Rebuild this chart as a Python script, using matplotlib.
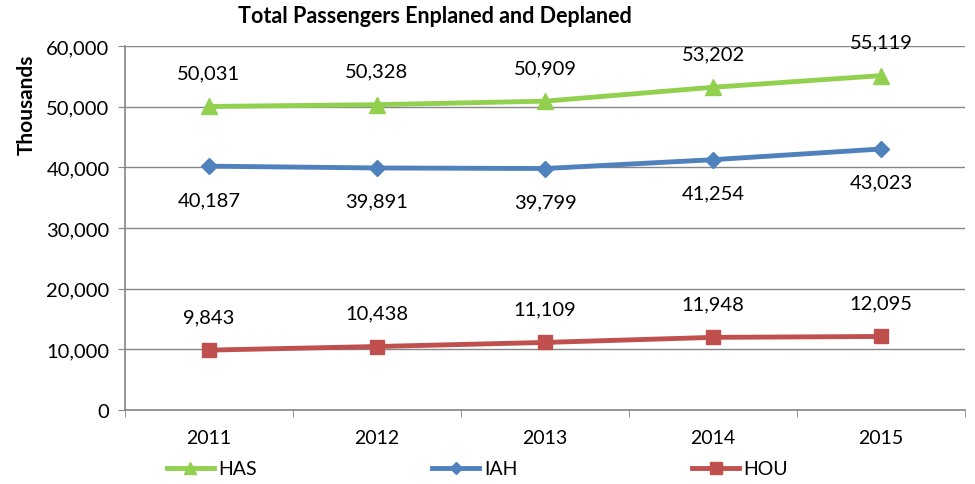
import matplotlib.pyplot as plt
from matplotlib.ticker import FuncFormatter, FixedLocator

years = ["2011", "2012", "2013", "2014", "2015"]
has = [50031, 50328, 50909, 53202, 55119]
iah = [40187, 39891, 39799, 41254, 43023]
hou = [9843, 10438, 11109, 11948, 12095]

plt.rcParams['font.family'] = ['Lato', 'DejaVu Sans']

fig = plt.figure(figsize=(9.75, 4.85), dpi=100)
ax = fig.add_axes([0.128, 0.153, 0.862, 0.750])
x = list(range(1, len(years) + 1))

series = [("HAS", has, "#92D050", "^", 11, "above"),
          ("IAH", iah, "#4F81BD", "D", 8, "below"),
          ("HOU", hou, "#C0504D", "s", 10, "above")]
for name, vals, col, mk, ms, pos in series:
    ax.plot(x, vals, color=col, lw=3.5, marker=mk, ms=ms, label=name, zorder=3)
    for xi, v in zip(x, vals):
        dy = 24 if pos == "above" else -24
        ax.annotate(f"{v:,}", (xi, v), xytext=(0, dy), textcoords="offset points",
                    ha="center", va="center", fontsize=14.5)

ax.set_xlim(0.5, len(years) + 0.5)
ax.set_ylim(0, 60000)
ax.set_yticks(range(0, 60001, 10000))
ax.yaxis.set_major_formatter(FuncFormatter(lambda v, p: f"{int(v):,}"))
ax.set_xticks(x)
ax.set_xticklabels(years)
ax.xaxis.set_minor_locator(FixedLocator([i + 0.5 for i in range(len(years) + 1)]))
ax.tick_params(axis="x", which="major", length=0, pad=14, labelsize=14)
ax.tick_params(axis="x", which="minor", length=5, color="#868686")
ax.tick_params(axis="y", length=5, color="#868686", labelsize=14.5, pad=6)
ax.grid(axis="y", color="#868686", lw=1)
ax.set_axisbelow(True)
for s in ["top", "right"]:
    ax.spines[s].set_visible(False)
for s in ["left", "bottom"]:
    ax.spines[s].set_color("#868686")
    ax.spines[s].set_linewidth(1.2)

ax.set_ylabel("Thousands", fontsize=15, fontweight="bold")
ax.yaxis.set_label_coords(-0.105, 0.84)
fig.text(0.446, 0.965, "Total Passengers Enplaned and Deplaned", ha="center", va="center",
         fontsize=15.5, fontweight="bold")
fig.legend(loc="center", bbox_to_anchor=(0.49, 0.031), ncol=3, frameon=False,
           fontsize=14, columnspacing=9.0, handlelength=2.4, handletextpad=0.25,
           markerscale=0.8)

fig.savefig("out.png", dpi=100)
